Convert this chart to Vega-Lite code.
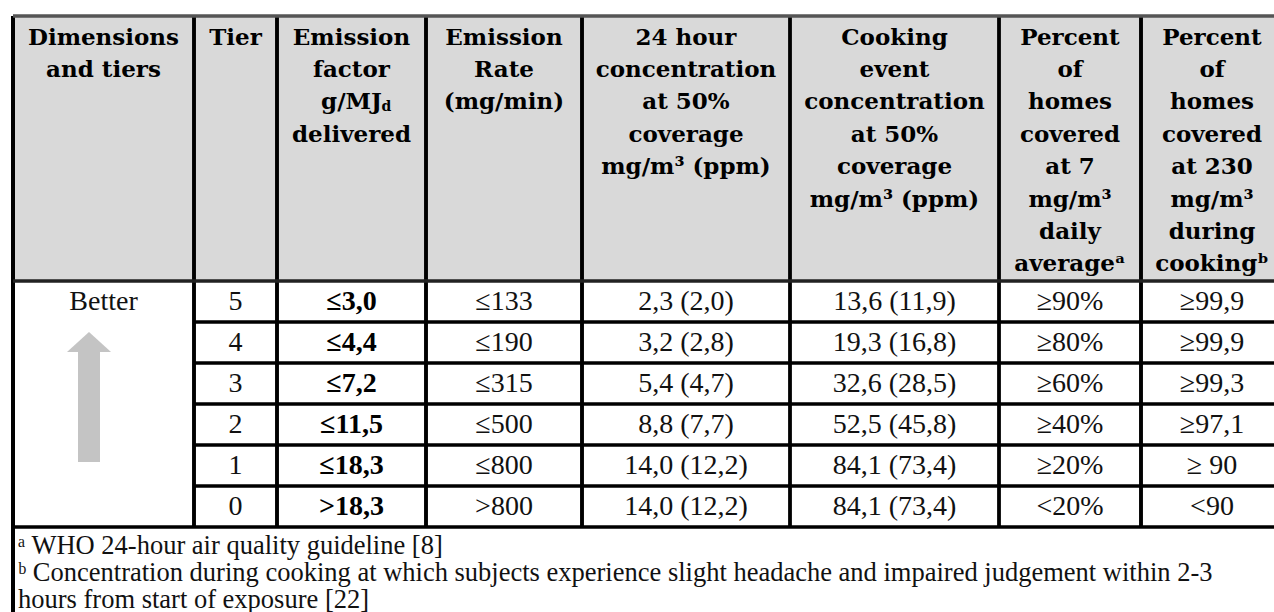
{
  "$schema": "https://vega.github.io/schema/vega-lite/v6.json",
  "width": 1274,
  "height": 612,
  "autosize": {"type": "fit", "contains": "padding"},
  "padding": 0,
  "background": "white",
  "config": {"view": {"stroke": null}},
  "datasets": {
    "columns": [
      {"key": "dim", "col": 0},
      {"key": "tier", "col": 1},
      {"key": "ef", "col": 2},
      {"key": "rate", "col": 3},
      {"key": "c24", "col": 4},
      {"key": "cook", "col": 5},
      {"key": "p7", "col": 6},
      {"key": "p230", "col": 7}
    ],
    "table": [
      {"row": 0,
       "dim": ["Dimensions", "and tiers"],
       "tier": ["Tier"],
       "ef": ["Emission", "factor", "g/MJ", "delivered"],
       "rate": ["Emission", "Rate", "(mg/min)"],
       "c24": ["24 hour", "concentration", "at 50%", "coverage", "mg/m³ (ppm)"],
       "cook": ["Cooking", "event", "concentration", "at 50%", "coverage", "mg/m³ (ppm)"],
       "p7": ["Percent", "of", "homes", "covered", "at 7", "mg/m³", "daily", "averageᵃ"],
       "p230": ["Percent", "of", "homes", "covered", "at 230", "mg/m³", "during", "cookingᵇ"]},
      {"row": 1, "dim": "Better", "tier": "5", "ef": "≤3,0", "rate": "≤133", "c24": "2,3 (2,0)", "cook": "13,6 (11,9)", "p7": "≥90%", "p230": "≥99,9"},
      {"row": 2, "tier": "4", "ef": "≤4,4", "rate": "≤190", "c24": "3,2 (2,8)", "cook": "19,3 (16,8)", "p7": "≥80%", "p230": "≥99,9"},
      {"row": 3, "tier": "3", "ef": "≤7,2", "rate": "≤315", "c24": "5,4 (4,7)", "cook": "32,6 (28,5)", "p7": "≥60%", "p230": "≥99,3"},
      {"row": 4, "tier": "2", "ef": "≤11,5", "rate": "≤500", "c24": "8,8 (7,7)", "cook": "52,5 (45,8)", "p7": "≥40%", "p230": "≥97,1"},
      {"row": 5, "tier": "1", "ef": "≤18,3", "rate": "≤800", "c24": "14,0 (12,2)", "cook": "84,1 (73,4)", "p7": "≥20%", "p230": "≥ 90"},
      {"row": 6, "tier": "0", "ef": ">18,3", "rate": ">800", "c24": "14,0 (12,2)", "cook": "84,1 (73,4)", "p7": "<20%", "p230": "<90"}
    ],
    "vlines": [
      {"at": -0.5, "top": -0.5, "bottom": 9, "kind": "border"},
      {"at": 0.5, "top": -0.5, "bottom": 6.5, "kind": "thick"},
      {"at": 1.5, "top": -0.5, "bottom": 6.5, "kind": "thick"},
      {"at": 2.5, "top": -0.5, "bottom": 6.5, "kind": "thick"},
      {"at": 3.5, "top": -0.5, "bottom": 6.5, "kind": "thick"},
      {"at": 4.5, "top": -0.5, "bottom": 6.5, "kind": "thin"},
      {"at": 5.5, "top": -0.5, "bottom": 6.5, "kind": "thin"},
      {"at": 6.5, "top": -0.5, "bottom": 6.5, "kind": "thick"},
      {"at": 7.5, "top": -0.5, "bottom": 9, "kind": "border"}
    ],
    "hlines": [
      {"at": -0.5, "from": -0.5, "to": 7.5, "kind": "top"},
      {"at": 0.5, "from": -0.5, "to": 7.5, "kind": "head"},
      {"at": 1.5, "from": 0.5, "to": 7.5, "kind": "row"},
      {"at": 2.5, "from": 0.5, "to": 7.5, "kind": "row"},
      {"at": 3.5, "from": 0.5, "to": 7.5, "kind": "row"},
      {"at": 4.5, "from": 0.5, "to": 7.5, "kind": "row"},
      {"at": 5.5, "from": 0.5, "to": 7.5, "kind": "row"},
      {"at": 6.5, "from": -0.5, "to": 7.5, "kind": "row"}
    ],
    "arrow": [{"col": 0, "from": 5, "to": 1}],
    "footnotes": [
      {"lines": ["ᵃ WHO 24-hour air quality guideline [8]", "ᵇ Concentration during cooking at which subjects experience slight headache and impaired judgement within 2-3", "hours from start of exposure [22]"]}
    ]
  },
  "layer": [
    {
      "data": {"values": [{}]},
      "mark": {"type": "rect", "color": "#d9d9d9"},
      "encoding": {
        "x": {"datum": -0.5, "type": "quantitative", "axis": null, "scale": {"domain": [-0.5, 0.5, 1.5, 2.5, 3.5, 4.5, 5.5, 6.5, 7.5], "range": [13, 194, 277, 426, 582, 790, 999, 1141, 1283], "zero": false, "nice": false}},
        "x2": {"datum": 7.5},
        "y": {"datum": -0.5, "type": "quantitative", "axis": null, "scale": {"domain": [-0.5, 0, 0.5, 1.5, 2.5, 3.5, 4.5, 5.5, 6.5, 7, 9], "range": [16, 26.5, 281, 322, 363, 404, 445, 486, 527, 554, 612], "zero": false, "nice": false}},
        "y2": {"datum": 0.5}
      }
    },
    {
      "data": {"name": "vlines"},
      "mark": {"type": "rule", "strokeCap": "butt"},
      "encoding": {
        "x": {"field": "at", "type": "quantitative", "axis": null, "scale": {"domain": [-0.5, 0.5, 1.5, 2.5, 3.5, 4.5, 5.5, 6.5, 7.5], "range": [13, 194, 277, 426, 582, 790, 999, 1141, 1283], "zero": false, "nice": false}},
        "y": {"field": "top", "type": "quantitative", "axis": null, "scale": {"domain": [-0.5, 0, 0.5, 1.5, 2.5, 3.5, 4.5, 5.5, 6.5, 7, 9], "range": [16, 26.5, 281, 322, 363, 404, 445, 486, 527, 554, 612], "zero": false, "nice": false}},
        "y2": {"field": "bottom"},
        "strokeWidth": {"field": "kind", "type": "nominal", "legend": null, "scale": {"domain": ["border", "thick", "thin", "top", "head", "row"], "range": [4, 3.5, 2, 1.5, 2.5, 2]}},
        "color": {"field": "kind", "type": "nominal", "legend": null, "scale": {"domain": ["border", "thick", "thin", "top", "head", "row"], "range": ["#000000", "#000000", "#000000", "#555555", "#222222", "#000000"]}}
      }
    },
    {
      "data": {"name": "hlines"},
      "mark": {"type": "rule", "strokeCap": "butt"},
      "encoding": {
        "y": {"field": "at", "type": "quantitative", "axis": null, "scale": {"domain": [-0.5, 0, 0.5, 1.5, 2.5, 3.5, 4.5, 5.5, 6.5, 7, 9], "range": [16, 26.5, 281, 322, 363, 404, 445, 486, 527, 554, 612], "zero": false, "nice": false}},
        "x": {"field": "from", "type": "quantitative", "axis": null, "scale": {"domain": [-0.5, 0.5, 1.5, 2.5, 3.5, 4.5, 5.5, 6.5, 7.5], "range": [13, 194, 277, 426, 582, 790, 999, 1141, 1283], "zero": false, "nice": false}},
        "x2": {"field": "to"},
        "strokeWidth": {"field": "kind", "type": "nominal", "legend": null, "scale": {"domain": ["border", "thick", "thin", "top", "head", "row"], "range": [4, 3.5, 2, 1.5, 2.5, 2]}},
        "color": {"field": "kind", "type": "nominal", "legend": null, "scale": {"domain": ["border", "thick", "thin", "top", "head", "row"], "range": ["#000000", "#000000", "#000000", "#555555", "#222222", "#000000"]}}
      }
    },
    {
      "data": {"name": "arrow"},
      "mark": {"type": "rule", "color": "#c4c4c4", "strokeWidth": 22, "strokeCap": "butt", "xOffset": -14.5, "yOffset": -3.5, "y2Offset": 49.5},
      "encoding": {
        "x": {"field": "col", "type": "quantitative", "axis": null, "scale": {"domain": [-0.5, 0.5, 1.5, 2.5, 3.5, 4.5, 5.5, 6.5, 7.5], "range": [13, 194, 277, 426, 582, 790, 999, 1141, 1283], "zero": false, "nice": false}},
        "y": {"field": "from", "type": "quantitative", "axis": null, "scale": {"domain": [-0.5, 0, 0.5, 1.5, 2.5, 3.5, 4.5, 5.5, 6.5, 7, 9], "range": [16, 26.5, 281, 322, 363, 404, 445, 486, 527, 554, 612], "zero": false, "nice": false}},
        "y2": {"field": "to"}
      }
    },
    {
      "data": {"name": "arrow"},
      "mark": {"type": "point", "filled": true, "opacity": 1, "color": "#c4c4c4", "strokeWidth": 0, "shape": "M-1,0.45L0,-0.45L1,0.45Z", "size": 1936, "xOffset": -14.5, "yOffset": 40.5},
      "encoding": {
        "x": {"field": "col", "type": "quantitative", "axis": null, "scale": {"domain": [-0.5, 0.5, 1.5, 2.5, 3.5, 4.5, 5.5, 6.5, 7.5], "range": [13, 194, 277, 426, 582, 790, 999, 1141, 1283], "zero": false, "nice": false}},
        "y": {"field": "to", "type": "quantitative", "axis": null, "scale": {"domain": [-0.5, 0, 0.5, 1.5, 2.5, 3.5, 4.5, 5.5, 6.5, 7, 9], "range": [16, 26.5, 281, 322, 363, 404, 445, 486, 527, 554, 612], "zero": false, "nice": false}}
      }
    },
    {
      "data": {"name": "table"},
      "transform": [
        {"fold": ["dim", "tier", "ef", "rate", "c24", "cook", "p7", "p230"], "as": ["key", "value"]},
        {"filter": "isValid(datum.value)"},
        {"lookup": "key", "from": {"data": {"name": "columns"}, "key": "key", "fields": ["col"]}}
      ],
      "encoding": {
        "x": {"field": "col", "type": "quantitative", "axis": null, "scale": {"domain": [-0.5, 0.5, 1.5, 2.5, 3.5, 4.5, 5.5, 6.5, 7.5], "range": [13, 194, 277, 426, 582, 790, 999, 1141, 1283], "zero": false, "nice": false}},
        "y": {"field": "row", "type": "quantitative", "axis": null, "scale": {"domain": [-0.5, 0, 0.5, 1.5, 2.5, 3.5, 4.5, 5.5, 6.5, 7, 9], "range": [16, 26.5, 281, 322, 363, 404, 445, 486, 527, 554, 612], "zero": false, "nice": false}},
        "text": {"field": "value", "type": "nominal"}
      },
      "layer": [
        {
          "transform": [{"filter": "datum.row === 0"}],
          "mark": {"type": "text", "font": "DejaVu Serif", "fontWeight": "bold", "fontSize": 23, "lineHeight": 32.4, "align": "center", "baseline": "top", "color": "#000000"}
        },
        {
          "transform": [{"filter": "datum.row > 0 && datum.key !== 'ef'"}],
          "mark": {"type": "text", "font": "Liberation Serif", "fontSize": 28, "align": "center", "baseline": "middle", "color": "#111111"}
        },
        {
          "transform": [{"filter": "datum.row > 0 && datum.key === 'ef'"}],
          "mark": {"type": "text", "font": "Liberation Serif", "fontWeight": "bold", "fontSize": 28, "align": "center", "baseline": "middle", "color": "#000000"}
        }
      ]
    },
    {
      "data": {"values": [{}]},
      "mark": {"type": "text", "text": "d", "font": "DejaVu Serif", "fontWeight": "bold", "fontSize": 14, "align": "left", "baseline": "alphabetic", "dx": 30, "dy": 84, "color": "#000000"},
      "encoding": {
        "x": {"datum": 2, "type": "quantitative", "axis": null, "scale": {"domain": [-0.5, 0.5, 1.5, 2.5, 3.5, 4.5, 5.5, 6.5, 7.5], "range": [13, 194, 277, 426, 582, 790, 999, 1141, 1283], "zero": false, "nice": false}},
        "y": {"datum": 0, "type": "quantitative", "axis": null, "scale": {"domain": [-0.5, 0, 0.5, 1.5, 2.5, 3.5, 4.5, 5.5, 6.5, 7, 9], "range": [16, 26.5, 281, 322, 363, 404, 445, 486, 527, 554, 612], "zero": false, "nice": false}}
      }
    },
    {
      "data": {"name": "footnotes"},
      "mark": {"type": "text", "font": "Liberation Serif", "fontSize": 26.5, "lineHeight": 27, "align": "left", "baseline": "alphabetic", "dx": 5, "color": "#111111"},
      "encoding": {
        "x": {"datum": -0.5, "type": "quantitative", "axis": null, "scale": {"domain": [-0.5, 0.5, 1.5, 2.5, 3.5, 4.5, 5.5, 6.5, 7.5], "range": [13, 194, 277, 426, 582, 790, 999, 1141, 1283], "zero": false, "nice": false}},
        "y": {"datum": 7, "type": "quantitative", "axis": null, "scale": {"domain": [-0.5, 0, 0.5, 1.5, 2.5, 3.5, 4.5, 5.5, 6.5, 7, 9], "range": [16, 26.5, 281, 322, 363, 404, 445, 486, 527, 554, 612], "zero": false, "nice": false}},
        "text": {"field": "lines", "type": "nominal"}
      }
    }
  ]
}
